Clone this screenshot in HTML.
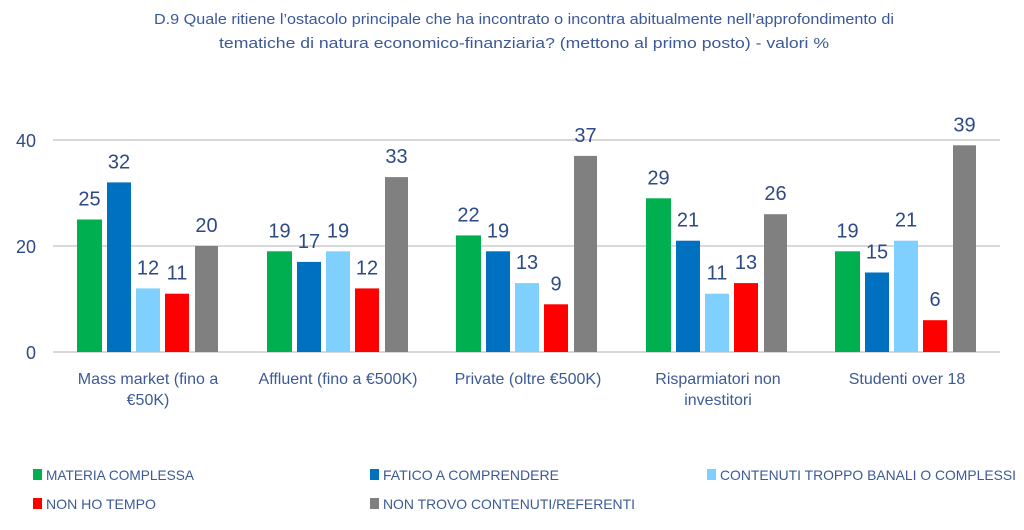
<!DOCTYPE html>
<html><head><meta charset="utf-8"><style>
html,body{margin:0;padding:0;background:#fff;}
svg{display:block;font-family:"Liberation Sans",sans-serif;}
</style></head><body>
<svg width="1024" height="530" viewBox="0 0 1024 530" xmlns="http://www.w3.org/2000/svg">
<rect width="1024" height="530" fill="#fff"/>
<g fill="#3B5998" font-size="14.5" text-anchor="middle">
<text x="524" y="24" textLength="740" lengthAdjust="spacingAndGlyphs">D.9 Quale ritiene  l’ostacolo principale che ha incontrato o incontra abitualmente  nell’approfondimento di</text>
<text x="524" y="48" textLength="610" lengthAdjust="spacingAndGlyphs">tematiche  di natura economico-finanziaria? (mettono al primo posto) - valori %</text>
</g>
<g stroke="#D9D9D9" stroke-width="2">
<line x1="53" y1="140" x2="1000" y2="140"/>
<line x1="53" y1="246" x2="1000" y2="246"/>
<line x1="53" y1="352" x2="1000" y2="352"/>
</g>
<g fill="#2E4A86" font-size="18" text-anchor="end">
<text x="36" y="147">40</text><text x="36" y="253">20</text><text x="36" y="359">0</text>
</g>
<g id="bars"></g>
<g fill="#3C5A96" font-size="16" text-anchor="middle">
<text x="148" y="384">Mass market (fino a</text><text x="148" y="405">€50K)</text>
<text x="338" y="384">Affluent (fino a €500K)</text>
<text x="528" y="384">Private (oltre €500K)</text>
<text x="718" y="384">Risparmiatori non</text><text x="718" y="405">investitori</text>
<text x="907" y="384">Studenti over 18</text>
</g>
<g font-size="14" fill="#3C5A96">
<rect x="33" y="469" width="9" height="11" fill="#00B050"/><text x="46" y="480" textLength="148" lengthAdjust="spacingAndGlyphs">MATERIA COMPLESSA</text>
<rect x="370" y="469" width="9" height="11" fill="#0070C0"/><text x="383" y="480" textLength="176" lengthAdjust="spacingAndGlyphs">FATICO A COMPRENDERE</text>
<rect x="707" y="469" width="9" height="11" fill="#7FD0FF"/><text x="720" y="480" textLength="296" lengthAdjust="spacingAndGlyphs">CONTENUTI TROPPO BANALI O COMPLESSI</text>
<rect x="33" y="498" width="9" height="11" fill="#FF0000"/><text x="46" y="509" textLength="110" lengthAdjust="spacingAndGlyphs">NON HO TEMPO</text>
<rect x="370" y="498" width="9" height="11" fill="#808080"/><text x="383" y="509" textLength="252" lengthAdjust="spacingAndGlyphs">NON TROVO CONTENUTI/REFERENTI</text>
</g>
<g>
<!-- group 1 start 77 -->
<rect x="77" y="219.5" width="25" height="132.5" fill="#00B050"/>
<rect x="107" y="182.4" width="24" height="169.6" fill="#0070C0"/>
<rect x="136" y="288.4" width="24" height="63.6" fill="#7FD0FF"/>
<rect x="165" y="293.7" width="24" height="58.3" fill="#FF0000"/>
<rect x="195" y="246" width="23" height="106" fill="#808080"/>
<rect x="267" y="251.3" width="25" height="100.7" fill="#00B050"/>
<rect x="297" y="261.9" width="24" height="90.1" fill="#0070C0"/>
<rect x="326" y="251.3" width="24" height="100.7" fill="#7FD0FF"/>
<rect x="355" y="288.4" width="24" height="63.6" fill="#FF0000"/>
<rect x="385" y="177.1" width="23" height="174.9" fill="#808080"/>
<rect x="456" y="235.4" width="25" height="116.6" fill="#00B050"/>
<rect x="486" y="251.3" width="24" height="100.7" fill="#0070C0"/>
<rect x="515" y="283.1" width="24" height="68.9" fill="#7FD0FF"/>
<rect x="544" y="304.3" width="24" height="47.7" fill="#FF0000"/>
<rect x="574" y="155.9" width="23" height="196.1" fill="#808080"/>
<rect x="646" y="198.3" width="25" height="153.7" fill="#00B050"/>
<rect x="676" y="240.7" width="24" height="111.3" fill="#0070C0"/>
<rect x="705" y="293.7" width="24" height="58.3" fill="#7FD0FF"/>
<rect x="734" y="283.1" width="24" height="68.9" fill="#FF0000"/>
<rect x="764" y="214.2" width="23" height="137.8" fill="#808080"/>
<rect x="835" y="251.3" width="25" height="100.7" fill="#00B050"/>
<rect x="865" y="272.5" width="24" height="79.5" fill="#0070C0"/>
<rect x="894" y="240.7" width="24" height="111.3" fill="#7FD0FF"/>
<rect x="923" y="320.2" width="24" height="31.8" fill="#FF0000"/>
<rect x="953" y="145.3" width="23" height="206.7" fill="#808080"/>
</g>
<g fill="#2E4A86" font-size="20" text-anchor="middle">
<text x="89.5" y="205.5">25</text><text x="119" y="168.4">32</text><text x="148" y="274.4">12</text><text x="177" y="279.7">11</text><text x="206.5" y="232">20</text>
<text x="279.5" y="237.3">19</text><text x="309" y="247.9">17</text><text x="338" y="237.3">19</text><text x="367" y="274.4">12</text><text x="396.5" y="163.1">33</text>
<text x="468.5" y="221.4">22</text><text x="498" y="237.3">19</text><text x="527" y="269.1">13</text><text x="556" y="290.3">9</text><text x="585.5" y="141.9">37</text>
<text x="658.5" y="184.3">29</text><text x="688" y="226.7">21</text><text x="717" y="279.7">11</text><text x="746" y="269.1">13</text><text x="775.5" y="200.2">26</text>
<text x="847.5" y="237.3">19</text><text x="877" y="258.5">15</text><text x="906" y="226.7">21</text><text x="935" y="306.2">6</text><text x="964.5" y="131.3">39</text>
</g>
</svg>
</body></html>
